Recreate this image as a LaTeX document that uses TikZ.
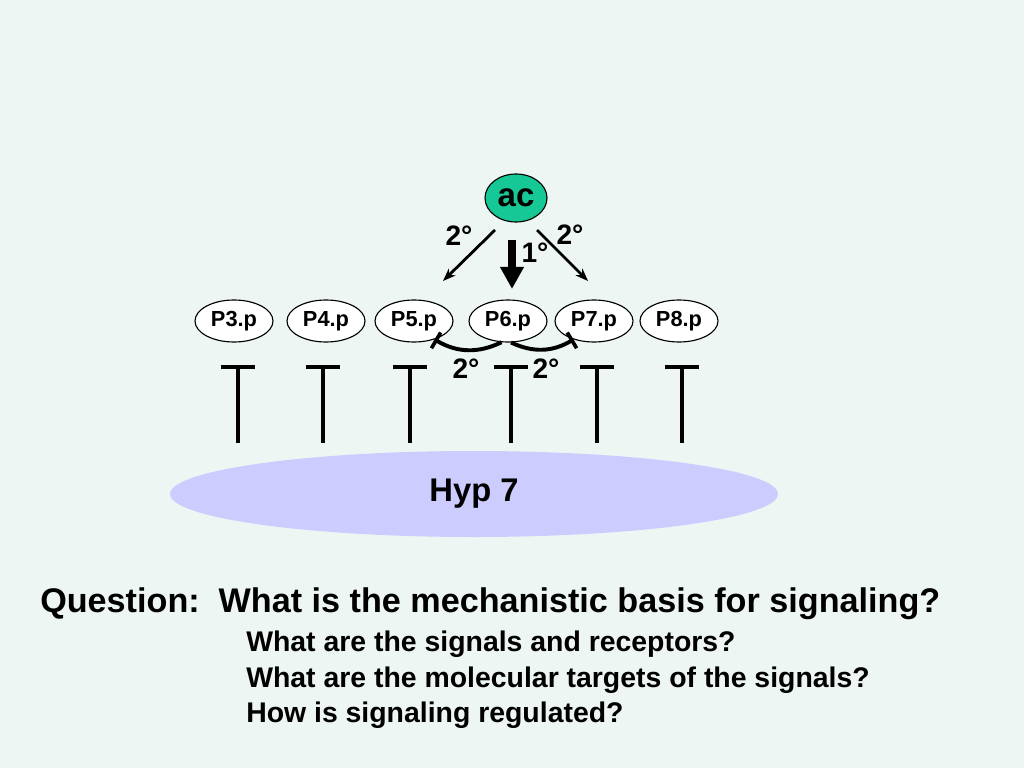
\documentclass[tikz,border=0pt]{standalone}
\usepackage{fontspec}
\setmainfont{Liberation Sans}
\usetikzlibrary{arrows.meta, shapes.geometric}
\definecolor{bgmint}{RGB}{237,246,242}
\definecolor{acgreen}{RGB}{22,200,150}
\definecolor{hyplav}{RGB}{204,204,255}
\tikzset{
  cell/.style={draw, ellipse, line width=0.8pt, fill=white, minimum width=78*0.025cm, minimum height=42*0.025cm, inner sep=0pt, font=\fontsize{15.5}{17}\selectfont\bfseries},
  deg/.style={font=\fontsize{20}{22}\selectfont\bfseries, inner sep=0pt},
  thinflow/.style={-{Stealth[length=3.2mm, width=2.4mm]}, line width=2pt},
  mainflow/.style={-{Triangle[length=5.5mm, width=5.6mm]}, line width=5.5pt},
  inhib/.style={-{Bar[width=13pt, line width=2.6pt]}, line width=2.8pt},
  receptor/.style={line width=2.9pt},
  qtext/.style={anchor=west, inner sep=0pt, font=\fontsize{24.3}{28}\selectfont\bfseries},
  subtext/.style={anchor=west, inner sep=0pt, font=\fontsize{20.2}{24}\selectfont\bfseries},
}

\begin{document}
\begin{tikzpicture}[x=0.025cm, y=-0.025cm]
    \fill[bgmint] (0,0) rectangle (1024,768);
    \useasboundingbox (0,0) rectangle (1024,768);
    % anchor cell
    \node[draw, ellipse, line width=0.8pt, fill=acgreen, minimum width=62*0.025cm, minimum height=48*0.025cm, inner sep=0pt, font=\fontsize{23.5}{26}\selectfont\bfseries] (ac) at (516,198) {ac};
    % vulval precursor cells
    \node[cell] (p3) at (234,321) {P3.p};
    \node[cell] (p4) at (326,321) {P4.p};
    \node[cell] (p5) at (414,321) {P5.p};
    \node[cell] (p6) at (508,321) {P6.p};
    \node[cell] (p7) at (594,321) {P7.p};
    \node[cell] (p8) at (679,321) {P8.p};
    % hypodermis
    \node[ellipse, fill=hyplav, minimum width=608*0.025cm, minimum height=86*0.025cm, inner sep=0pt, font=\fontsize{23.3}{26}\selectfont\bfseries] (hyp) at (474,494) {Hyp 7};
    \draw[thinflow] ([shift={(-21,32)}]ac.center) -- ([shift={(29,-40)}]p5.center);
    \draw[thinflow] ([shift={(21,32)}]ac.center) -- ([shift={(-6,-40)}]p7.center);
    \draw[mainflow] ([shift={(-4,42)}]ac.center) -- ([shift={(4,-32)}]p6.center);
    \node[deg] (l2a) at (459,236) {2°};
    \node[deg] (l1) at (535,253) {1°};
    \node[deg] (l2b) at (570,235) {2°};
    % lateral signal
    \draw[inhib] (p6.253) to[bend left=28] (p5.-42);
    \draw[inhib] (p6.-82) to[bend right=28] (p7.-138);
    \node[deg] (l2c) at (466,369) {2°};
    \node[deg] (l2d) at (546,369) {2°};
    % receptors
    \draw[receptor] (221,367) -- (255,367) (238,367) -- (238,443);
    \draw[receptor] (306,367) -- (340,367) (323,367) -- (323,443);
    \draw[receptor] (393,367) -- (427,367) (410,367) -- (410,443);
    \draw[receptor] (494,367) -- (528,367) (511,367) -- (511,443);
    \draw[receptor] (580,367) -- (614,367) (597,367) -- (597,443);
    \draw[receptor] (665,367) -- (699,367) (682,367) -- (682,443);
    % questions
    \node[qtext] (question) at (40,604) {Question:\ \ What is the mechanistic basis for signaling?};
    \node[subtext] (q1) at (246,644) {What are the signals and receptors?};
    \node[subtext] (q2) at (246,680) {What are the molecular targets of the signals?};
    \node[subtext] (q3) at (246,715) {How is signaling regulated?};
  \end{tikzpicture}
\end{document}
